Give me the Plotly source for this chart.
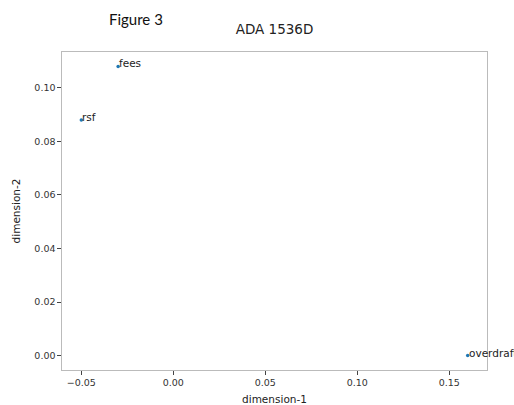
import plotly.graph_objects as go

labels = ["rsf", "fees", "overdraft"]
dim1 = [-0.05, -0.030, 0.160]
dim2 = [0.088, 0.108, 0.000]

x_ticks = [-0.05, 0.00, 0.05, 0.10, 0.15]
y_ticks = [0.00, 0.02, 0.04, 0.06, 0.08, 0.10]

W, H = 514, 405
L, R, T, B = 62, 27, 52, 35

fig = go.Figure()
fig.add_trace(go.Scatter(
    x=dim1, y=dim2, mode="markers",
    marker=dict(color="#1f77b4", size=3.5),
    cliponaxis=False, showlegend=False, hoverinfo="skip",
))

for lab, xv, yv in zip(labels, dim1, dim2):
    fig.add_annotation(
        x=xv, y=yv, text=lab, showarrow=False,
        xanchor="left", yanchor="bottom", xshift=-1, yshift=-5,
        font=dict(family="DejaVu Sans", size=10.5, color="#222222"),
    )

fig.add_annotation(
    xref="paper", yref="paper",
    x=(107 - L) / (W - L - R), y=1 + (T - 19) / (H - T - B),
    text="Figure 3", showarrow=False, xanchor="left", yanchor="middle",
    font=dict(family="Lato", size=15, color="#111111"),
)

axis_common = dict(
    showgrid=False, zeroline=False, showline=True, mirror=True,
    linecolor="#bbbbbb", linewidth=1.2, automargin=False,
    ticks="outside", ticklen=3.5, tickwidth=1, tickcolor="#444444",
    tickfont=dict(family="DejaVu Sans", size=9.5, color="#333333"),
)

fig.update_layout(
    width=W, height=H,
    margin=dict(l=L, r=R, t=T, b=B, autoexpand=False),
    paper_bgcolor="white", plot_bgcolor="white",
    title=dict(text="ADA 1536D", x=(L + (W - L - R) / 2) / W, xanchor="center",
               y=1 - 29 / H, yanchor="middle",
               font=dict(family="DejaVu Sans", size=13.5, color="#222222")),
    xaxis=dict(range=[-0.0605, 0.1705], tickvals=x_ticks, tickformat=".2f",
               title=dict(text="dimension-1", standoff=9,
                          font=dict(family="DejaVu Sans", size=10.5, color="#222222")),
               **axis_common),
    yaxis=dict(range=[-0.0054, 0.1134], tickvals=y_ticks, tickformat=".2f",
               title=dict(text="dimension-2", standoff=11,
                          font=dict(family="DejaVu Sans", size=10.5, color="#222222")),
               **axis_common),
)

fig.write_html("out.html", config={"displayModeBar": False},
               post_script="document.body.style.margin='0';document.body.style.overflow='hidden';")
